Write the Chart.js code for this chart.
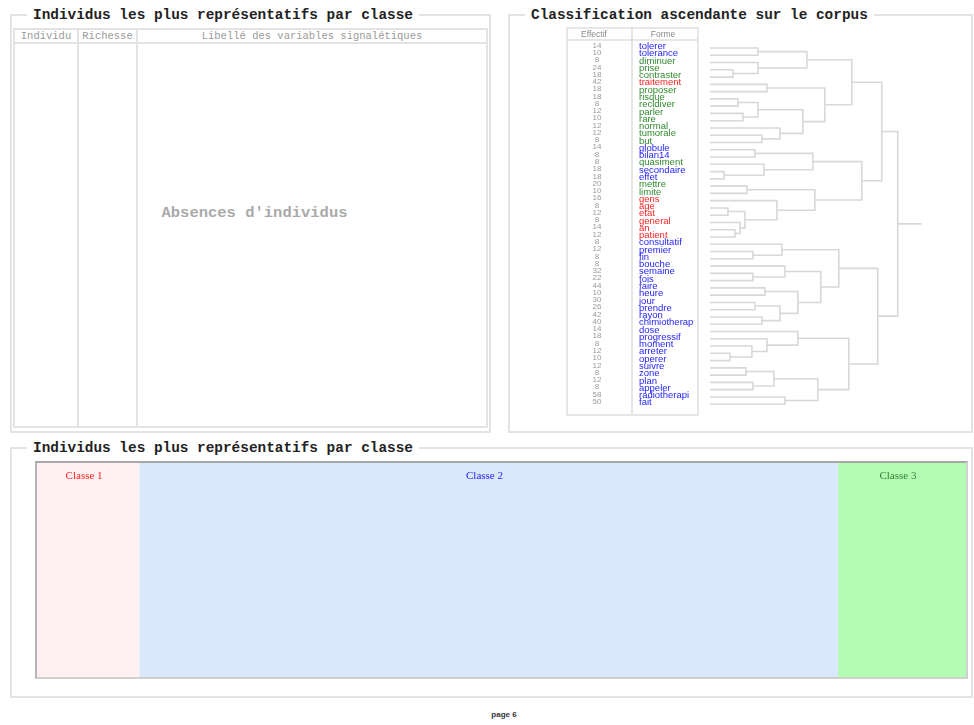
<!DOCTYPE html>
<html lang="fr">
<head>
  <meta charset="UTF-8" />
  <title>Classification ascendante sur le corpus</title>
  <script src="https://cdn.jsdelivr.net/npm/chart.js"></script>
  <style>
    body {
      margin: 0;
      width: 974px;
      height: 725px;
      position: relative;
      overflow: hidden;
      background: #fff;
      font-family: "Liberation Sans", Arial, sans-serif;
    }
    .box {
      position: absolute;
      box-sizing: border-box;
      border: 2px solid #e3e3e3;
    }
    .legend {
      position: absolute;
      top: -9.5px;
      left: 15px;
      padding: 0 6px;
      background: #fff;
      font: bold 14.4px/17px "Liberation Mono", "Courier New", monospace;
      color: #222;
      white-space: nowrap;
    }
    table.ind {
      position: absolute;
      left: 1px;
      top: 12px;
      width: 475px;
      height: 400px;
      border-collapse: collapse;
      border: 2px solid #e3e3e3;
    }
    table.ind th, table.ind td {
      border: 2px solid #e3e3e3;
      padding: 0;
    }
    table.ind th {
      height: 12px;
      font: normal 10.5px/12px "Liberation Mono", monospace;
      color: #9a9a9a;
    }
    .absence {
      position: absolute;
      left: 130px;
      top: 188px;
      width: 225px;
      text-align: center;
      font: bold 15.5px "Liberation Mono", monospace;
      color: #aaa;
    }
    #dendro {
      position: absolute;
      left: 560px;
      top: 25px;
      width: 410px;
      height: 400px;
    }
    .cadre {
      position: absolute;
      left: 35px;
      top: 461px;
      width: 933px;
      height: 218px;
      box-sizing: border-box;
      border: 2px solid #cfcfcf;
      border-top-color: #a8a8a8;
      border-left-color: #b5b5b5;
    }
    .page {
      position: absolute;
      left: 454px;
      width: 100px;
      top: 710px;
      text-align: center;
      font: bold 8px "Liberation Sans", Arial, sans-serif;
      color: #333;
    }
  </style>
</head>
<body>
  <div class="box" style="left:10px;top:14px;width:481px;height:419px">
    <span class="legend">Individus les plus représentatifs par classe</span>
    <table class="ind">
      <tr><th style="width:62px">Individu</th><th style="width:57px">Richesse</th><th>Libellé des variables signalétiques</th></tr>
      <tr><td></td><td></td><td></td></tr>
    </table>
    <div class="absence">Absences d'individus</div>
  </div>

  <div class="box" style="left:508px;top:14px;width:465px;height:419px">
    <span class="legend">Classification ascendante sur le corpus</span>
  </div>
  <div id="dendro"><canvas id="dendroChart"></canvas></div>

  <div class="box" style="left:10px;top:447px;width:963px;height:251px">
    <span class="legend">Individus les plus représentatifs par classe</span>
  </div>
  <div class="cadre"><canvas id="classeChart"></canvas></div>

  <div class="page">page 6</div>

  <script>
    // formes du dendrogramme, de haut en bas
    const formes = ['tolerer', 'tolerance', 'diminuer', 'prise', 'contraster', 'traitement', 'proposer', 'risque',
      'recidiver', 'parler', 'rare', 'normal', 'tumorale', 'but', 'globule', 'bilan14', 'quasiment', 'secondaire',
      'effet', 'mettre', 'limite', 'gens', 'age', 'etat', 'general', 'an', 'patient', 'consultatif', 'premier',
      'fin', 'bouche', 'semaine', 'fois', 'faire', 'heure', 'jour', 'prendre', 'rayon', 'chimiotherap', 'dose',
      'progressif', 'moment', 'arreter', 'operer', 'suivre', 'zone', 'plan', 'appeler', 'radiotherapi', 'fait'];
    const effectifs = [14, 10, 8, 24, 18, 42, 18, 18, 8, 12,
      10, 12, 12, 8, 14, 8, 8, 18, 18, 20,
      10, 16, 8, 12, 8, 14, 12, 8, 12, 8,
      8, 32, 22, 44, 10, 30, 26, 42, 40, 14,
      18, 8, 12, 10, 12, 8, 12, 8, 58, 50];
    // classe de chaque forme (1, 2 ou 3)
    const classeForme = [2, 2, 3, 3, 3, 1, 3, 3, 3, 3,
      3, 3, 3, 3, 2, 2, 3, 2, 2, 3,
      3, 1, 1, 1, 1, 1, 1, 2, 2, 2,
      2, 2, 2, 2, 2, 2, 2, 2, 2, 2,
      2, 2, 2, 2, 2, 2, 2, 2, 2, 2];
    // fusions [a, b, hauteur] ; indices >= 50 = fusion précédente (50 + rang)
    const fusions = [
      [0, 1, 48], [3, 4, 23], [2, 51, 48], [50, 52, 97], [5, 6, 57],
      [7, 8, 28], [9, 10, 33], [55, 56, 48], [12, 13, 52], [11, 58, 70],
      [57, 59, 93], [54, 60, 115], [53, 61, 142], [14, 15, 45], [17, 18, 14],
      [16, 64, 54], [63, 65, 103], [19, 20, 37], [22, 23, 18], [25, 26, 25],
      [24, 69, 30], [68, 70, 35], [21, 71, 67], [67, 72, 105], [66, 73, 152],
      [62, 74, 172], [28, 29, 43], [27, 76, 72], [31, 32, 43], [30, 78, 75],
      [33, 34, 55], [35, 36, 45], [37, 38, 52], [81, 82, 70], [80, 83, 88],
      [79, 84, 111], [77, 85, 129], [42, 43, 20], [41, 87, 42], [40, 88, 57],
      [39, 89, 88], [44, 45, 36], [46, 47, 43], [91, 92, 64], [48, 49, 75],
      [93, 94, 108], [90, 95, 139], [86, 96, 168], [75, 97, 188]
    ];
    const hauteurMax = 212;

    // bandeau des classes
    const classesLib = ['Classe 1', 'Classe 2', 'Classe 3'];
    const classesPart = [11, 75.2, 13.8];

    const couleursClasse = { 1: '#ff1f1f', 2: '#2424ff', 3: '#2f8a2f' };
    const fondsClasse = ['#fff1f1', '#d9e8fa', '#b4fbb4'];

    // segments du dendrogramme
    const noeuds = formes.map((f, i) => ({ y: i, h: 0 }));
    const points = [];
    fusions.forEach(([a, b, h]) => {
      const A = noeuds[a], B = noeuds[b];
      points.push({ x: A.h, y: A.y }, { x: h, y: A.y }, { x: h, y: B.y }, { x: B.h, y: B.y }, { x: null, y: null });
      noeuds.push({ y: (A.y + B.y) / 2, h: h });
    });
    const racine = noeuds[noeuds.length - 1];
    points.push({ x: racine.h, y: racine.y }, { x: hauteurMax, y: racine.y });

    // tableau Effectif / Forme à gauche de l'arbre
    const tableauFormes = {
      id: 'tableauFormes',
      afterDraw(chart) {
        const ctx = chart.ctx;
        const ys = chart.scales.y;
        ctx.save();
        ctx.strokeStyle = '#dedede';
        ctx.lineWidth = 1.5;
        ctx.strokeRect(7, 3, 131, 387);
        ctx.beginPath();
        ctx.moveTo(7, 15); ctx.lineTo(138, 15);
        ctx.moveTo(72, 3); ctx.lineTo(72, 390);
        ctx.stroke();
        ctx.fillStyle = '#8a8a8a';
        ctx.font = '8.5px "Liberation Sans", Arial, sans-serif';
        ctx.textAlign = 'center';
        ctx.textBaseline = 'middle';
        ctx.fillText('Effectif', 34, 9.5);
        ctx.fillText('Forme', 103, 9.5);
        ctx.font = '8px "Liberation Sans", Arial, sans-serif';
        ctx.fillStyle = '#999';
        effectifs.forEach((e, i) => ctx.fillText(String(e), 37, ys.getPixelForValue(i) - 2.5));
        ctx.textAlign = 'left';
        ctx.font = '9.5px "Liberation Sans", Arial, sans-serif';
        formes.forEach((f, i) => {
          ctx.fillStyle = couleursClasse[classeForme[i]];
          ctx.fillText(f, 79, ys.getPixelForValue(i) - 1.5);
        });
        ctx.restore();
      }
    };

    new Chart(document.getElementById('dendroChart'), {
      type: 'scatter',
      data: {
        datasets: [{
          data: points,
          showLine: true,
          spanGaps: false,
          pointRadius: 0,
          borderColor: '#d8d8d8',
          borderWidth: 1.6,
          clip: false
        }]
      },
      options: {
        responsive: true,
        maintainAspectRatio: false,
        animation: false,
        layout: { padding: { left: 150, right: 48.3, top: 23, bottom: 20.8 } },
        scales: {
          x: { type: 'linear', min: 0, max: hauteurMax, display: false },
          y: { type: 'linear', min: 0, max: formes.length - 1, reverse: true, display: false }
        },
        plugins: { legend: { display: false }, tooltip: { enabled: false } }
      },
      plugins: [tableauFormes]
    });

    // étiquettes en haut de chaque classe
    const etiquettesClasses = {
      id: 'etiquettesClasses',
      afterDatasetsDraw(chart) {
        const ctx = chart.ctx;
        const xs = chart.scales.x;
        const couleurs = [couleursClasse[1], couleursClasse[2], couleursClasse[3]];
        let cumul = 0;
        ctx.save();
        ctx.font = '11px "Liberation Serif", "Times New Roman", serif';
        ctx.textAlign = 'center';
        ctx.textBaseline = 'middle';
        classesLib.forEach((lib, i) => {
          const xc = xs.getPixelForValue(cumul + classesPart[i] / 2) - 4;
          ctx.fillStyle = couleurs[i];
          ctx.fillText(lib, xc, 13);
          cumul += classesPart[i];
        });
        ctx.restore();
      }
    };

    new Chart(document.getElementById('classeChart'), {
      type: 'bar',
      data: {
        labels: ['classes'],
        datasets: classesLib.map((lib, i) => ({
          label: lib,
          data: [classesPart[i]],
          backgroundColor: fondsClasse[i],
          borderWidth: 0,
          barPercentage: 1,
          categoryPercentage: 1
        }))
      },
      options: {
        indexAxis: 'y',
        responsive: true,
        maintainAspectRatio: false,
        animation: false,
        layout: { padding: 0 },
        scales: {
          x: { stacked: true, min: 0, max: classesPart.reduce((s, v) => s + v, 0), display: false },
          y: { stacked: true, display: false }
        },
        plugins: { legend: { display: false }, tooltip: { enabled: false } }
      },
      plugins: [etiquettesClasses]
    });
  </script>
</body>
</html>
